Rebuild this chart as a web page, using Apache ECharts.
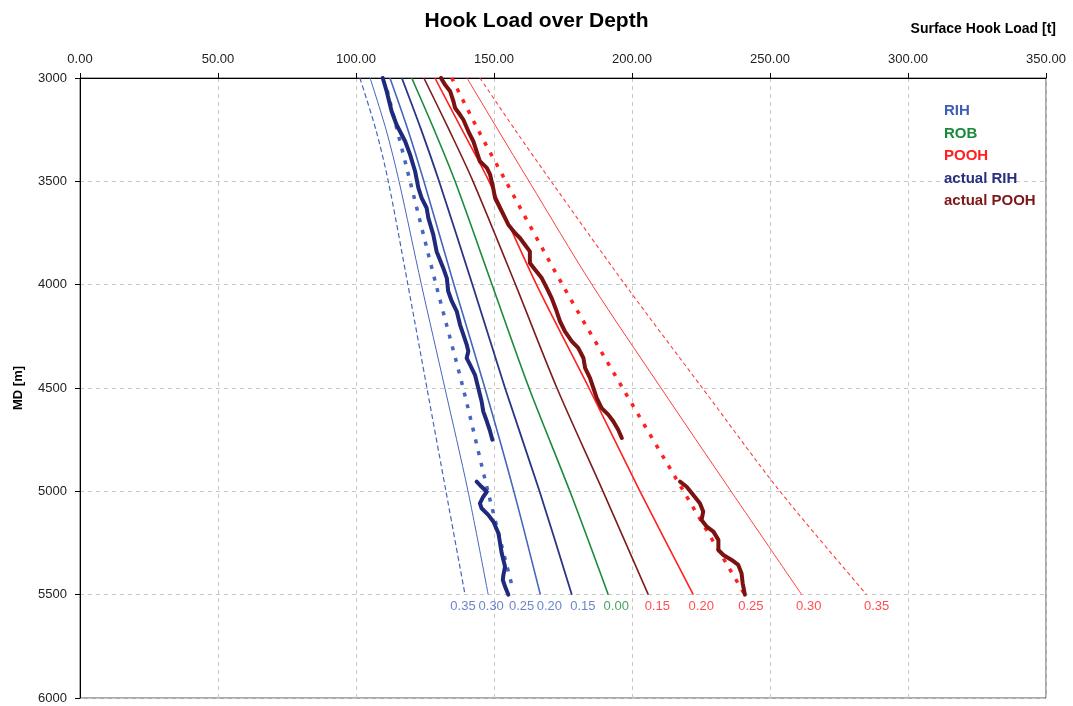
<!DOCTYPE html>
<html>
<head>
<meta charset="utf-8">
<title>Hook Load over Depth</title>
<script src="https://cdn.jsdelivr.net/npm/echarts@6/dist/echarts.min.js"></script>
<style>
  html, body { margin: 0; padding: 0; background: #ffffff; }
  #chart { width: 1073px; height: 706px; }
</style>
</head>
<body>
<div id="chart"></div>
<script>
// Depth stations (m MD) for the modelled friction-factor curves
const depthGrid = [3000, 3250, 3500, 4000, 4500, 5000, 5500];

// Modelled surface hook load [t], running in hole
const rih035 = [101.4, 107.2, 111.7, 118.8, 125.7, 132.6, 139.5];
const rih030 = [105.1, 110.9, 115.6, 123.7, 132.2, 140.6, 147.9];
const rih025Depth = [3060, 3500, 4000, 4500, 5000, 5450];
const rih025 = [111.3, 119.6, 129.0, 138.8, 147.8, 156.4];
const rih020 = [112.3, 118.8, 124.6, 135.5, 146.7, 157.2, 166.8];
const rih015 = [116.6, 123.6, 130.1, 142.2, 154.0, 166.5, 178.2];

// Rotating off bottom
const rob000 = [120.2, 128.3, 135.9, 149.3, 162.7, 177.5, 191.4];

// Pulling out of hole
const pooh015 = [124.6, 133.7, 142.4, 157.8, 172.8, 189.5, 205.9];
const pooh020 = [128.6, 138.4, 148.2, 165.4, 184.4, 202.9, 222.2];
const pooh025 = [134.7, 144.2, 154.3, 174.8, 196.6, 218.7, 240.9];
const pooh030 = [140.2, 151.4, 162.7, 185.5, 210.5, 235.9, 261.5];
const pooh035 = [144.9, 157.6, 170.7, 197.5, 225.5, 253.6, 285.0];

// Measured hook load, running in hole (two logged intervals)
const actualRihDepthA = [3000, 3064, 3161, 3226, 3306, 3371, 3451, 3532, 3581, 3629, 3677, 3758, 3839, 3919, 3968, 4032, 4080, 4129, 4194, 4242, 4290, 4322, 4355, 4387, 4436, 4500, 4564, 4613, 4661, 4710, 4750];
const actualRihLoadA = [109.7, 111.1, 112.9, 114.7, 117.8, 119.6, 121.4, 122.6, 123.8, 125.6, 126.2, 128.0, 129.2, 131.6, 132.9, 133.4, 134.7, 136.5, 137.7, 138.9, 140.1, 140.7, 140.1, 141.3, 143.1, 144.3, 145.5, 146.1, 147.4, 148.6, 149.4];
const actualRihDepthB = [4953, 4978, 5002, 5026, 5058, 5082, 5114, 5147, 5203, 5251, 5300, 5365, 5405, 5429, 5461, 5500];
const actualRihLoadB = [143.7, 145.5, 147.4, 146.1, 144.9, 145.5, 147.9, 149.8, 151.6, 152.2, 152.8, 154.0, 153.4, 153.2, 154.0, 155.2];

// Measured hook load, pulling out of hole (two logged intervals)
const actualPoohDepthA = [3000, 3032, 3064, 3113, 3145, 3178, 3202, 3258, 3306, 3355, 3403, 3435, 3468, 3532, 3581, 3629, 3677, 3710, 3750, 3774, 3807, 3839, 3895, 3928, 3968, 4016, 4065, 4129, 4177, 4226, 4274, 4306, 4355, 4403, 4452, 4500, 4548, 4597, 4629, 4661, 4702, 4742];
const actualPoohLoadA = [130.8, 132.2, 134.1, 135.3, 135.9, 137.7, 138.9, 140.7, 142.5, 143.7, 144.9, 147.4, 148.6, 149.7, 150.4, 152.2, 154.0, 155.2, 157.6, 159.4, 161.2, 163.0, 163.0, 164.9, 167.3, 169.1, 170.9, 172.7, 173.9, 175.7, 178.2, 180.5, 182.4, 183.0, 184.8, 186.0, 187.2, 189.0, 191.4, 193.2, 195.0, 196.3];
const actualPoohDepthB = [4953, 4978, 5018, 5058, 5098, 5139, 5171, 5195, 5235, 5284, 5308, 5332, 5356, 5397, 5445, 5500];
const actualPoohLoadB = [217.4, 219.8, 222.2, 224.6, 225.8, 225.2, 227.1, 229.5, 231.3, 231.3, 233.1, 236.1, 238.5, 239.7, 240.1, 240.9];

// Axis tick values
const loadTicks = { min: 0, max: 350, step: 50 };
const depthTicks = { min: 3000, max: 6000, step: 500 };
const labelDepth = 5500;

const FONT = 'Arial, "Liberation Sans", Helvetica, sans-serif';
const BLUE = '#4566bd';
const NAVY = '#2a3586';
const GREEN = '#1b8a3c';
const RED = '#ff2020';
const MAROON = '#7d1c1c';

function pairs(loads, depths) {
  return loads.map((v, i) => [v, depths[i]]);
}

// Modelled curves, one per friction factor
const curves = [
  { name: 'RIH',  factor: '0.35', loads: rih035,  depths: depthGrid,   color: BLUE,   width: 1.2, dash: [5, 3], labelColor: BLUE,  shift: -2 },
  { name: 'RIH',  factor: '0.30', loads: rih030,  depths: depthGrid,   color: BLUE,   width: 1.0, dash: 'solid', labelColor: BLUE, shift: 3 },
  { name: 'RIH',  factor: '0.25', loads: rih025,  depths: rih025Depth, color: BLUE,   width: 3.5, dash: [4, 8], labelColor: BLUE,  shift: 10 },
  { name: 'RIH',  factor: '0.20', loads: rih020,  depths: depthGrid,   color: BLUE,   width: 1.6, dash: 'solid', labelColor: BLUE, shift: 9 },
  { name: 'RIH',  factor: '0.15', loads: rih015,  depths: depthGrid,   color: NAVY,   width: 1.8, dash: 'solid', labelColor: BLUE, shift: 11 },
  { name: 'ROB',  factor: '0.00', loads: rob000,  depths: depthGrid,   color: GREEN,  width: 1.6, dash: 'solid', labelColor: GREEN, shift: 8 },
  { name: 'POOH', factor: '0.15', loads: pooh015, depths: depthGrid,   color: MAROON, width: 1.6, dash: 'solid', labelColor: RED,  shift: 9 },
  { name: 'POOH', factor: '0.20', loads: pooh020, depths: depthGrid,   color: RED,    width: 1.6, dash: 'solid', labelColor: RED,  shift: 8 },
  { name: 'POOH', factor: '0.25', loads: pooh025, depths: depthGrid,   color: RED,    width: 3.5, dash: [4, 8], labelColor: RED,   shift: 6 },
  { name: 'POOH', factor: '0.30', loads: pooh030, depths: depthGrid,   color: '#ff3c3c', width: 1.0, dash: 'solid', labelColor: RED, shift: 7 },
  { name: 'POOH', factor: '0.35', loads: pooh035, depths: depthGrid,   color: '#ff4040', width: 1.1, dash: [4, 3], labelColor: RED,  shift: 10 }
];

const series = curves.map(c => ({
  name: c.name,
  type: 'line',
  data: pairs(c.loads, c.depths),
  smooth: 0.3,
  showSymbol: false,
  symbol: 'none',
  silent: true,
  z: 2,
  lineStyle: { color: c.color, width: c.width, type: c.dash, cap: 'butt' },
  itemStyle: { color: c.color }
}));

// Measured traces
function actualSeries(name, loads, depths, color) {
  return {
    name: name,
    type: 'line',
    data: pairs(loads, depths),
    showSymbol: false,
    symbol: 'none',
    silent: true,
    z: 4,
    lineStyle: { color: color, width: 4, join: 'round', cap: 'round' },
    itemStyle: { color: color }
  };
}
series.push(actualSeries('actual RIH', actualRihLoadA, actualRihDepthA, '#1f2a7c'));
series.push(actualSeries('actual RIH', actualRihLoadB, actualRihDepthB, '#1f2a7c'));
series.push(actualSeries('actual POOH', actualPoohLoadA, actualPoohDepthA, '#7a1212'));
series.push(actualSeries('actual POOH', actualPoohLoadB, actualPoohDepthB, '#7a1212'));

// Friction-factor tags under the end of each modelled curve
series.push({
  name: 'factors',
  type: 'scatter',
  symbolSize: 0,
  silent: true,
  z: 5,
  data: curves.map(c => ({
    value: [c.loads[c.loads.length - 1], labelDepth],
    factor: c.factor,
    label: { color: c.labelColor, offset: [c.shift, 0] }
  })),
  label: {
    show: true,
    position: 'bottom',
    distance: 5,
    fontFamily: FONT,
    fontSize: 13,
    formatter: p => p.data.factor
  }
});

const chart = echarts.init(document.getElementById('chart'), null, { renderer: 'canvas' });

chart.setOption({
  animation: false,
  backgroundColor: '#ffffff',
  textStyle: { fontFamily: FONT },
  title: [
    {
      text: 'Hook Load over Depth',
      left: 'center',
      top: 6,
      textStyle: { fontFamily: FONT, fontSize: 21, fontWeight: 'bold', color: '#000' }
    },
    {
      text: 'Surface Hook Load [t]',
      right: 12,
      top: 17,
      textStyle: { fontFamily: FONT, fontSize: 14, fontWeight: 'bold', color: '#000' }
    }
  ],
  legend: {
    orient: 'vertical',
    left: 933,
    top: 95,
    itemWidth: 0,
    itemHeight: 0,
    itemGap: 0,
    selectedMode: false,
    textStyle: { fontFamily: FONT, fontSize: 15, fontWeight: 'bold', lineHeight: 22.5 },
    data: [
      { name: 'RIH', textStyle: { color: '#3f5fb5' } },
      { name: 'ROB', textStyle: { color: GREEN } },
      { name: 'POOH', textStyle: { color: RED } },
      { name: 'actual RIH', textStyle: { color: '#27307f' } },
      { name: 'actual POOH', textStyle: { color: '#7d1818' } }
    ]
  },
  grid: {
    left: 80,
    right: 27,
    top: 78,
    bottom: 8,
    show: true,
    borderColor: '#555',
    borderWidth: 1,
    backgroundColor: 'transparent'
  },
  xAxis: {
    type: 'value',
    position: 'top',
    min: loadTicks.min,
    max: loadTicks.max,
    interval: loadTicks.step,
    axisLine: { show: true, lineStyle: { color: '#000', width: 1 } },
    axisTick: { show: true, length: 5, lineStyle: { color: '#000' } },
    axisLabel: {
      fontFamily: FONT,
      fontSize: 13,
      color: '#222',
      margin: 12,
      formatter: v => v.toFixed(2)
    },
    splitLine: { show: true, lineStyle: { color: '#c6c6c6', type: [4, 4], width: 1 } }
  },
  yAxis: {
    type: 'value',
    inverse: true,
    min: depthTicks.min,
    max: depthTicks.max,
    interval: depthTicks.step,
    name: 'MD [m]',
    nameLocation: 'middle',
    nameGap: 55,
    nameRotate: 90,
    nameTextStyle: { fontFamily: FONT, fontSize: 13, fontWeight: 'bold', color: '#000' },
    axisLine: { show: true, lineStyle: { color: '#000', width: 1 } },
    axisTick: { show: true, length: 5, lineStyle: { color: '#000' } },
    axisLabel: { fontFamily: FONT, fontSize: 13, color: '#222', margin: 13, formatter: v => String(v) },
    splitLine: { show: true, lineStyle: { color: '#c6c6c6', type: [4, 4], width: 1 } }
  },
  series: series
});
</script>
</body>
</html>
